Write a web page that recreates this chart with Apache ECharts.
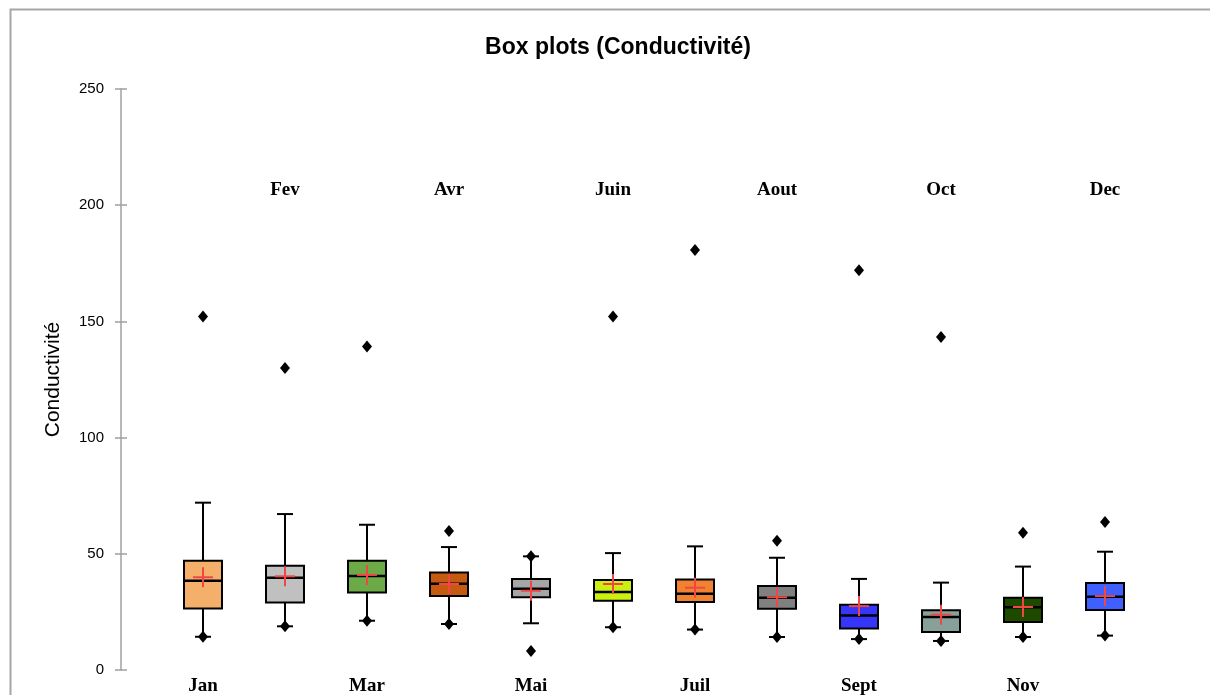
<!DOCTYPE html>
<html>
<head>
<meta charset="utf-8">
<title>Box plots (Conductivité)</title>
<script src="https://cdn.jsdelivr.net/npm/echarts@6/dist/echarts.min.js"></script>
<style>
  html, body { margin: 0; padding: 0; background: #ffffff; }
  #chart { width: 1210px; height: 695px; }
</style>
</head>
<body>
<div id="chart"></div>
<script>
// Monthly conductivity distributions
const months = ['Jan', 'Fev', 'Mar', 'Avr', 'Mai', 'Juin', 'Juil', 'Aout', 'Sept', 'Oct', 'Nov', 'Dec'];
const whiskerLow  = [14.3, 18.8, 21.2, 19.8, 20.1, 18.4, 17.4, 14.2, 13.3, 12.5, 14.2, 14.8];
const q1          = [26.5, 29.0, 33.3, 31.8, 31.3, 29.8, 29.3, 26.4, 17.9, 16.4, 20.7, 25.8];
const median      = [38.4, 39.7, 40.4, 37.1, 35.0, 33.6, 32.8, 31.1, 23.4, 22.8, 27.0, 31.5];
const q3          = [47.0, 44.9, 47.0, 42.0, 39.2, 38.7, 38.9, 36.1, 28.1, 25.7, 31.1, 37.4];
const whiskerHigh = [72.0, 67.1, 62.5, 52.9, 48.9, 50.3, 53.2, 48.3, 39.2, 37.6, 44.5, 50.9];
const meanVal     = [39.9, 40.3, 40.9, 37.0, 34.1, 37.0, 35.4, 31.3, 27.5, 23.8, 27.1, 31.8];
const minVal      = [14.3, 18.8, 21.2, 19.8, 8.2, 18.4, 17.4, 14.2, 13.3, 12.5, 14.2, 14.8];
const maxVal      = [152.1, 129.9, 139.2, 59.8, 48.9, 152.1, 180.7, 55.6, 172.0, 143.3, 59.1, 63.7];
const yTicks      = [0, 50, 100, 150, 200, 250];

// Fill colour of each month's box
const boxColors = ['#F4B06A', '#C0C0C0', '#6BAA47', '#C55A11', '#A6A6A6', '#CCEE11',
                   '#F08232', '#808080', '#3636FA', '#88A09A', '#1E4A00', '#3F5FFF'];

const boxData = months.map((m, i) => [i + 1, whiskerLow[i], q1[i], median[i], q3[i], whiskerHigh[i], meanVal[i]]);
const extremeData = [];
months.forEach((m, i) => {
  extremeData.push([i + 1, minVal[i]]);
  extremeData.push([i + 1, maxVal[i]]);
});
const labelData = months.map((m, i) => [i + 1, 0, m]);

function renderBox(params, api) {
  const x = api.value(0);
  const pLow = api.coord([x, api.value(1)]);
  const pQ1 = api.coord([x, api.value(2)]);
  const pMed = api.coord([x, api.value(3)]);
  const pQ3 = api.coord([x, api.value(4)]);
  const pHigh = api.coord([x, api.value(5)]);
  const pMean = api.coord([x, api.value(6)]);
  const cx = pQ1[0];
  const w = 38, cap = 8, cross = 10;
  const line = { stroke: '#000', lineWidth: 2 };
  const red = { stroke: '#F04646', lineWidth: 2 };
  return {
    type: 'group',
    children: [
      { type: 'line', shape: { x1: cx, y1: pHigh[1], x2: cx, y2: pQ3[1] }, style: line },
      { type: 'line', shape: { x1: cx, y1: pQ1[1], x2: cx, y2: pLow[1] }, style: line },
      { type: 'line', shape: { x1: cx - cap, y1: pHigh[1], x2: cx + cap, y2: pHigh[1] }, style: line },
      { type: 'line', shape: { x1: cx - cap, y1: pLow[1], x2: cx + cap, y2: pLow[1] }, style: line },
      { type: 'rect', shape: { x: cx - w / 2, y: pQ3[1], width: w, height: pQ1[1] - pQ3[1] },
        style: { fill: boxColors[params.dataIndex], stroke: '#000', lineWidth: 2 } },
      { type: 'line', shape: { x1: cx - w / 2, y1: pMed[1], x2: cx + w / 2, y2: pMed[1] },
        style: { stroke: '#000', lineWidth: 2.5 } },
      { type: 'line', shape: { x1: cx - cross, y1: pMean[1], x2: cx + cross, y2: pMean[1] }, style: red },
      { type: 'line', shape: { x1: cx, y1: pMean[1] - cross, x2: cx, y2: pMean[1] + cross }, style: red }
    ]
  };
}

function renderMonthLabel(params, api) {
  const x = api.value(0);
  const i = params.dataIndex;
  const base = api.coord([x, 0]);
  // odd months sit below the plot, even months in a row near the top
  const y = (i % 2 === 0) ? base[1] + 16 : api.coord([x, 206.5])[1];
  return {
    type: 'text',
    x: base[0],
    y: y,
    style: {
      text: months[i],
      textAlign: 'center',
      textVerticalAlign: 'middle',
      font: 'bold 19px "Liberation Serif", "DejaVu Serif", serif',
      fill: '#000'
    }
  };
}

const chart = echarts.init(document.getElementById('chart'), null, { renderer: 'canvas' });
chart.setOption({
  animation: false,
  backgroundColor: '#ffffff',
  title: {
    text: 'Box plots (Conductivité)',
    left: 613,
    top: 31,
    textAlign: 'center',
    textStyle: { fontFamily: '"Liberation Sans", Arial, sans-serif', fontWeight: 'bold', fontSize: 23, color: '#000' }
  },
  graphic: [
    { type: 'rect', left: 8, top: 7, shape: { x: 0, y: 0, width: 1300, height: 800 },
      style: { fill: 'none', stroke: '#A6A6A6', lineWidth: 2 }, silent: true }
  ],
  grid: { left: 121, right: 23, top: 89, bottom: 25, containLabel: false },
  xAxis: { type: 'value', min: 0, max: 13, show: false },
  yAxis: [
    {
      type: 'value', min: 0, max: 250, interval: 50,
      name: 'Conductivité', nameLocation: 'middle', nameGap: 57, nameRotate: 90,
      nameTextStyle: { fontFamily: '"Liberation Sans", Arial, sans-serif', fontSize: 21, color: '#000' },
      axisLine: { show: true, lineStyle: { color: '#A0A0A0', width: 1.5 } },
      axisTick: { show: true, length: 6, lineStyle: { color: '#A0A0A0', width: 1.5 } },
      axisLabel: {
        margin: 17, fontSize: 15, color: '#000',
        fontFamily: '"Liberation Sans", Arial, sans-serif',
        customValues: yTicks
      },
      splitLine: { show: false }
    },
    {
      type: 'value', min: 0, max: 250, interval: 50, position: 'left',
      axisLine: { show: false },
      axisTick: { show: true, inside: true, length: 6, lineStyle: { color: '#A0A0A0', width: 1.5 } },
      axisLabel: { show: false },
      splitLine: { show: false }
    }
  ],
  series: [
    {
      type: 'custom',
      name: 'boxes',
      renderItem: renderBox,
      data: boxData,
      encode: { x: 0, y: [1, 2, 3, 4, 5] },
      z: 2
    },
    {
      type: 'scatter',
      name: 'extremes',
      data: extremeData,
      symbol: 'diamond',
      symbolSize: [10, 12],
      itemStyle: { color: '#000', opacity: 1 },
      z: 5
    },
    {
      type: 'custom',
      name: 'months',
      renderItem: renderMonthLabel,
      data: labelData,
      clip: false,
      z: 6,
      silent: true
    }
  ]
});
</script>
</body>
</html>
